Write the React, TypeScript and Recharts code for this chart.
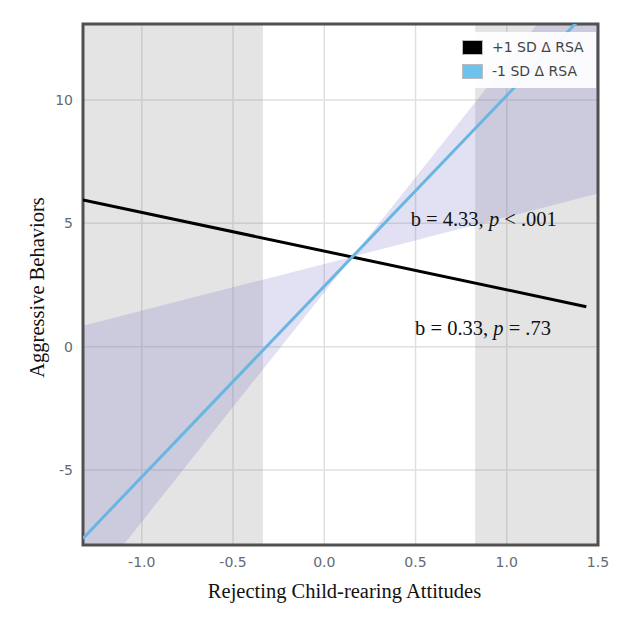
import React from 'react'
import {
  ComposedChart,
  Line,
  Area,
  XAxis,
  YAxis,
  CartesianGrid,
  ReferenceArea,
  ReferenceDot,
  Label,
} from 'recharts'

// axis extents
const X_MIN = -1.322
const X_MAX = 1.5
const Y_MIN = -8.04
const Y_MAX = 13.08

const xTicks = [-1, -0.5, 0, 0.5, 1, 1.5]
const yTicks = [-5, 0, 5, 10]

// simple slopes
const highX = [-1.322, 1.436]
const highY = [5.95, 1.62]
const lowX = [-1.322, 1.5]
const lowY = [-7.77, 14.05]

// confidence band around the -1 SD line
const bandX = [-1.322, 0.155, 1.5]
const bandLow = [-10.1, 3.65, 6.21]
const bandHigh = [0.85, 3.65, 16.17]

// regions of significance
const regionStart = [X_MIN, 0.827]
const regionEnd = [-0.336, X_MAX]

const annotations = [
  { x: 0.874, y: 5.19, b: '4.33', p: '< .001' },
  { x: 0.87, y: 0.77, b: '0.33', p: '= .73' },
]

const highData = highX.map((x, i) => ({ x, y: highY[i] }))
const lowData = lowX.map((x, i) => ({ x, y: lowY[i] }))
const bandData = bandX.map((x, i) => ({ x, range: [bandLow[i], bandHigh[i]] }))

const SERIF = '"Liberation Serif", "Times New Roman", serif'
const SANS = '"DejaVu Sans", Verdana, sans-serif'

const legendItems = [
  { label: '+1 SD \u0394 RSA', color: '#000000' },
  { label: '-1 SD \u0394 RSA', color: '#6cc4ee' },
]

function Legend() {
  return (
    <div
      style={{
        position: 'absolute',
        left: 453,
        top: 32,
        width: 143,
        height: 56,
        background: 'rgba(255,255,255,0.92)',
        fontFamily: SANS,
        fontSize: 14,
        color: '#444',
      }}
    >
      {legendItems.map((it, i) => (
        <div
          key={it.label}
          style={{ position: 'absolute', left: 9, top: 7 + i * 24, display: 'flex', alignItems: 'center' }}
        >
          <span
            style={{
              width: 21,
              height: 15,
              background: it.color,
              border: '1px solid #bbb',
              marginRight: 9,
              boxSizing: 'border-box',
            }}
          />
          <span>{it.label}</span>
        </div>
      ))}
    </div>
  )
}

// eslint-disable-next-line @typescript-eslint/no-explicit-any
const annotationLabel = (a: { b: string; p: string }) => (props: any) => {
  const { viewBox } = props
  const cx = viewBox.x + (viewBox.width || 0) / 2
  const cy = viewBox.y + (viewBox.height || 0) / 2
  return (
    <text x={cx} y={cy} dy={7} textAnchor="middle" fontFamily={SERIF} fontSize={20.5} fill="#111">
      {`b = ${a.b}, `}
      <tspan fontStyle="italic">p</tspan>
      {` ${a.p}`}
    </text>
  )
}

export default function App() {
  return (
    <div style={{ position: 'absolute', left: 0, top: 0, width: 632, height: 627, background: '#fff' }}>
      <ComposedChart
        width={632}
        height={627}
        margin={{ top: 24, right: 34, left: 0, bottom: 0 }}
      >
        <CartesianGrid stroke="#e0e0e0" strokeWidth={1.5} />
        <XAxis
          type="number"
          dataKey="x"
          domain={[X_MIN, X_MAX]}
          ticks={xTicks}
          allowDataOverflow
          height={82}
          tickLine={false}
          axisLine={false}
          tickMargin={6}
          tick={{ fill: '#626a74', fontSize: 14, fontFamily: SANS }}
          tickFormatter={(v: number) => v.toFixed(1)}
        >
          <Label
            content={(props: any) => {
              const vb = props.viewBox
              return (
                <text
                  x={vb.x + vb.width / 2 + 4}
                  y={598}
                  textAnchor="middle"
                  fontFamily={SERIF}
                  fontSize={20.5}
                  fill="#111"
                >
                  Rejecting Child-rearing Attitudes
                </text>
              )
            }}
          />
        </XAxis>
        <YAxis
          type="number"
          domain={[Y_MIN, Y_MAX]}
          ticks={yTicks}
          allowDataOverflow
          width={83}
          tickLine={false}
          axisLine={false}
          tickMargin={4}
          tick={{ fill: '#626a74', fontSize: 14, fontFamily: SANS }}
        >
          <Label
            content={(props: any) => {
              const vb = props.viewBox
              const cy = vb.y + vb.height / 2 + 3
              return (
                <text
                  x={44}
                  y={cy}
                  transform={`rotate(-90, 44, ${cy})`}
                  textAnchor="middle"
                  fontFamily={SERIF}
                  fontSize={20.5}
                  fill="#111"
                >
                  Aggressive Behaviors
                </text>
              )
            }}
          />
        </YAxis>
        {regionStart.map((s, i) => (
          <ReferenceArea
            key={i}
            x1={s}
            x2={regionEnd[i]}
            y1={Y_MIN}
            y2={Y_MAX}
            fill="#8c8c8c"
            fillOpacity={0.23}
            stroke="none"
          />
        ))}
        <Area
          data={bandData}
          dataKey="range"
          type="linear"
          stroke="none"
          fill="#6e68c8"
          fillOpacity={0.2}
          isAnimationActive={false}
          activeDot={false}
        />
        <Line
          data={highData}
          dataKey="y"
          type="linear"
          stroke="#000"
          strokeWidth={3}
          dot={false}
          activeDot={false}
          isAnimationActive={false}
        />
        <Line
          data={lowData}
          dataKey="y"
          type="linear"
          stroke="#6ab6e2"
          strokeWidth={3}
          dot={false}
          activeDot={false}
          isAnimationActive={false}
        />
        <ReferenceArea
          x1={X_MIN}
          x2={X_MAX}
          y1={Y_MIN}
          y2={Y_MAX}
          fill="none"
          stroke="#505050"
          strokeWidth={3}
        />
        {annotations.map((a) => (
          <ReferenceDot key={a.b} x={a.x} y={a.y} r={0} stroke="none" fill="none">
            <Label content={annotationLabel(a)} />
          </ReferenceDot>
        ))}
      </ComposedChart>
      <Legend />
    </div>
  )
}
